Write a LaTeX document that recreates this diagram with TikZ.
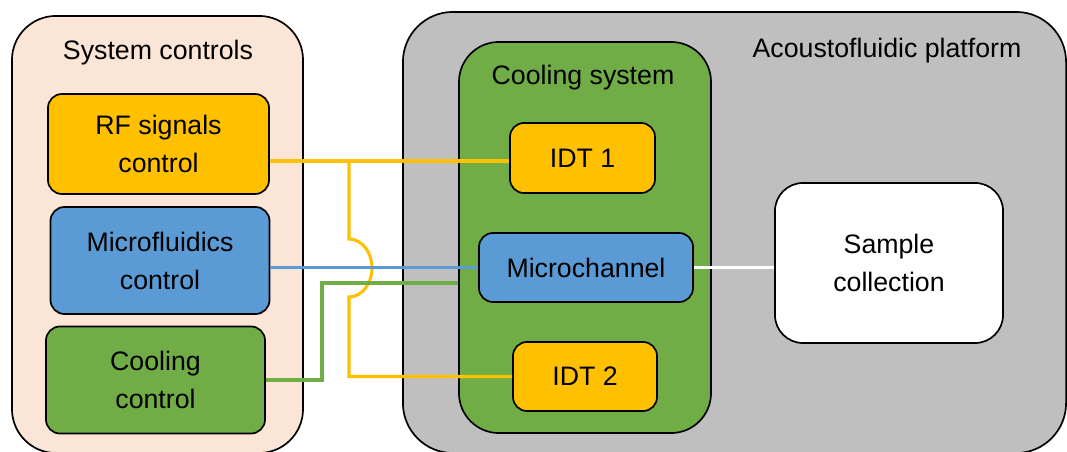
\documentclass[tikz,border=0pt]{standalone}
\usepackage{fontspec}
\setmainfont{Liberation Sans}
\usepackage{tikz}
\definecolor{peach}{HTML}{FBE5D6}
\definecolor{gold}{HTML}{FFC000}
\definecolor{skyblue}{HTML}{5B9BD5}
\definecolor{leaf}{HTML}{70AD47}
\definecolor{platgray}{HTML}{BFBFBF}
\begin{document}
\begin{tikzpicture}[x=0.025cm,y=-0.025cm,font=\fontsize{19}{27}\selectfont]
        \tikzset{block/.style = {shape=rectangle,draw,line width=1.2pt,align=center,inner sep=0pt,rounded corners=0.35cm}}
        \tikzset{wire/.style = {line width=2.2pt}}
        \useasboundingbox (0,0) rectangle (1067,452);
        \clip (0,0) rectangle (1067,452);
        \node[block,fill=peach,rounded corners=1.1cm,minimum width=7.275cm,minimum height=10.925cm] (ctrl) at (157.5,234.5) {};
        \node[block,fill=platgray,rounded corners=1.25cm,minimum width=16.575cm,minimum height=11.025cm] (plat) at (734.5,232.5) {};
        \node[block,fill=leaf,rounded corners=1cm,minimum width=6.3cm,minimum height=9.775cm] (cool) at (585,237.5) {};
        \node[anchor=base] (ctrltitle) at (158,60) {System controls};
        \node[anchor=base] (plattitle) at (887,58) {Acoustofluidic platform};
        \node[anchor=base] (cooltitle) at (583,85) {Cooling system};
        \node[block,fill=gold,minimum width=5.525cm,minimum height=2.5cm] (rf) at (158.5,144) {RF signals\\control};
        \node[block,fill=skyblue,minimum width=5.475cm,minimum height=2.675cm] (mf) at (160,260.5) {Microfluidics\\control};
        \node[block,fill=leaf,minimum width=5.475cm,minimum height=2.675cm] (cc) at (155.5,380) {Cooling\\control};
        \node[block,fill=gold,minimum width=3.625cm,minimum height=1.75cm] (idt1) at (582.5,158) {IDT 1};
        \node[block,fill=skyblue,minimum width=5.35cm,minimum height=1.725cm] (mch) at (586,267.5) {Microchannel};
        \node[block,fill=gold,minimum width=3.6cm,minimum height=1.725cm] (idt2) at (585,376.5) {IDT 2};
        \node[block,fill=white,rounded corners=0.7cm,minimum width=5.7cm,minimum height=4cm] (smp) at (889,263) {Sample\\collection};
        \coordinate (split) at (349,161);
        \coordinate (hopa) at (349,239);
        \coordinate (hopb) at (349,297);
        \coordinate (bend) at (322,283);
        \draw[wire,gold] (rf.east |- split) -- (idt1.west |- split);
        \draw[wire,gold] (split) -- (hopa) .. controls (361.7,239) and (372,252) .. (372,268)
            .. controls (372,284) and (361.7,297) .. (hopb) |- (idt2.west);
        \draw[wire,skyblue] (mf.east |- mch.west) -- (mch.west);
        \draw[wire,leaf] (cc.east) -| (bend) -- (bend -| cool.west);
        \draw[wire,white] (mch.east) -- (mch.east -| smp.west);
    \end{tikzpicture}
\end{document}
